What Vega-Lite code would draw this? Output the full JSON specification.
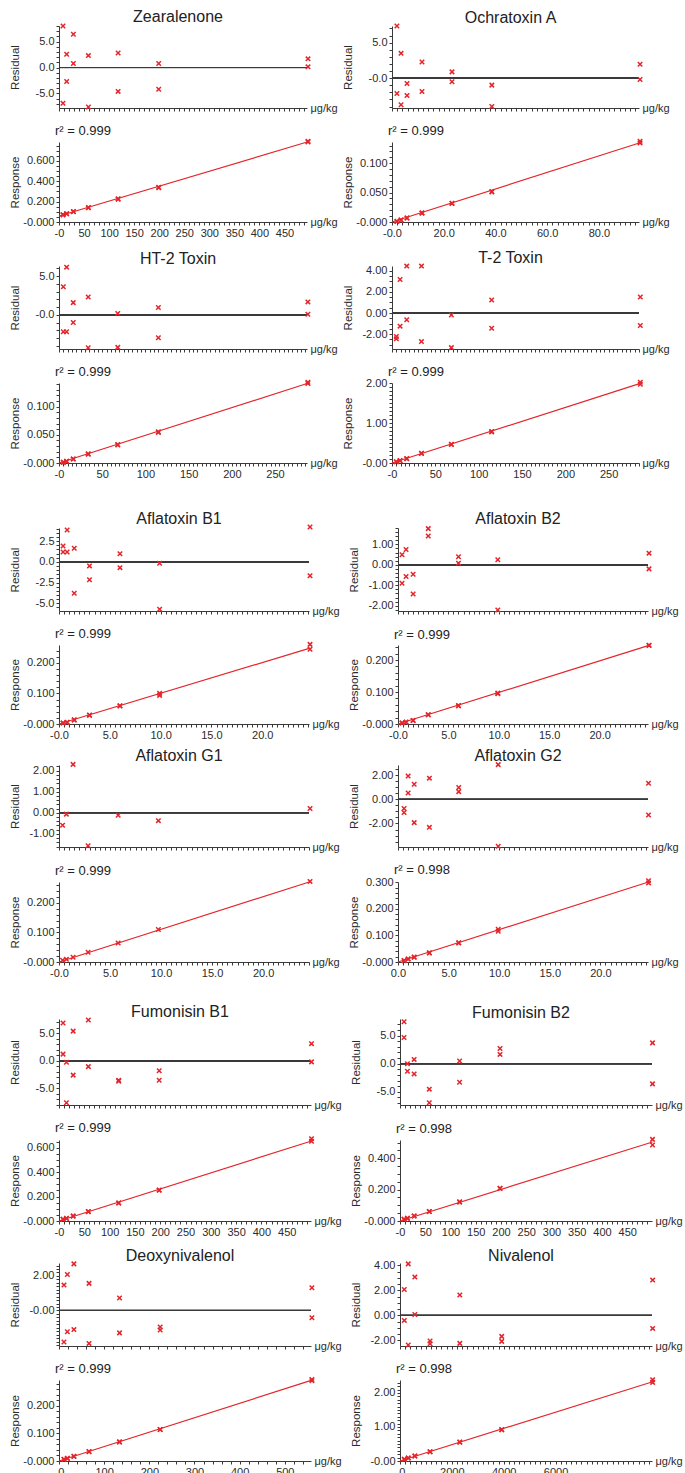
{
"$schema":"https://vega.github.io/schema/vega-lite/v6.json",
"padding":{"left":9,"top":9,"right":5,"bottom":0},
"config":{
 "font":"Liberation Sans",
 "view":{"stroke":null},
 "axis":{"grid":false,"domainColor":"#3a3a3a","tickColor":"#3a3a3a","tickSize":3,"labelFontSize":11,"labelColor":"#2b2b2b","titleFontSize":11.5,"titleFontWeight":"normal","titleColor":"#2b2b2b","labelOverlap":false,"labelFlush":false,"labelPadding":2,"labelFont":"Liberation Sans","titleFont":"Liberation Sans"},
 "axisY":{"titleX":-41,"titleBaseline":"alphabetic","titleAngle":270,"titleAlign":"center"},
 "axisX":{"titleY":0.5,"titleBaseline":"middle","titleAlign":"left","titleAngle":0,"titleFontSize":11},
 "title":{"fontSize":16,"fontWeight":"normal","color":"#222222","offset":3,"dy":8,"frame":"group","font":"Liberation Sans"},
 "point":{"shape":"M-1,-1L1,1M-1,1L1,-1","filled":false,"color":"#e3262b","strokeWidth":1.5,"size":20,"opacity":1},
 "line":{"color":"#e3262b","strokeWidth":1.2},
 "rule":{"color":"#3a3a3a","strokeWidth":1}
},
"datasets":{
"zea":[{"x":8,"res":8.0,"resp":0.072},{"x":8,"res":-6.9,"resp":0.070},{"x":15.3,"res":2.56,"resp":0.082},{"x":15.3,"res":-2.7,"resp":0.081},{"x":28.7,"res":6.4,"resp":0.102},{"x":28.7,"res":0.77,"resp":0.100},{"x":58.7,"res":2.3,"resp":0.142},{"x":58.7,"res":-7.6,"resp":0.139},{"x":118,"res":2.8,"resp":0.228},{"x":118,"res":-4.6,"resp":0.224},{"x":199,"res":0.77,"resp":0.340},{"x":199,"res":-4.2,"resp":0.336},{"x":497,"res":1.67,"resp":0.792},{"x":497,"res":0.13,"resp":0.786}],
"ota":[{"x":1.9,"res":7.34,"resp":0.0013},{"x":1.9,"res":-2.15,"resp":0.0010},{"x":3.5,"res":3.5,"resp":0.0035},{"x":3.5,"res":-3.74,"resp":0.0033},{"x":5.8,"res":-0.75,"resp":0.0069},{"x":5.8,"res":-2.43,"resp":0.0067},{"x":11.6,"res":2.29,"resp":0.0155},{"x":11.6,"res":-1.87,"resp":0.0151},{"x":23.2,"res":0.89,"resp":0.0320},{"x":23.2,"res":-0.51,"resp":0.0316},{"x":38.6,"res":-0.98,"resp":0.0518},{"x":38.6,"res":-4.0,"resp":0.0510},{"x":95.9,"res":1.96,"resp":0.1372},{"x":95.9,"res":-0.19,"resp":0.1345}],
"ht2":[{"x":5,"res":3.63,"resp":0.0013},{"x":5,"res":-2.18,"resp":0.0011},{"x":8.8,"res":6.15,"resp":0.0032},{"x":8.8,"res":-2.18,"resp":0.0029},{"x":16.5,"res":1.58,"resp":0.0072},{"x":16.5,"res":-0.98,"resp":0.0070},{"x":33.8,"res":2.31,"resp":0.0163},{"x":33.8,"res":-4.23,"resp":0.0156},{"x":68,"res":0.17,"resp":0.0328},{"x":68,"res":-4.19,"resp":0.0320},{"x":115,"res":0.94,"resp":0.0556},{"x":115,"res":-2.95,"resp":0.0543},{"x":288,"res":1.67,"resp":0.1432},{"x":288,"res":0.09,"resp":0.1410}],
"t2":[{"x":5,"res":-2.22,"resp":0.033},{"x":5,"res":-2.44,"resp":0.032},{"x":9.3,"res":3.17,"resp":0.060},{"x":9.3,"res":-1.24,"resp":0.057},{"x":17,"res":4.44,"resp":0.110},{"x":17,"res":-0.63,"resp":0.106},{"x":34,"res":4.44,"resp":0.246},{"x":34,"res":-2.7,"resp":0.238},{"x":68.5,"res":-0.19,"resp":0.468},{"x":68.5,"res":-3.27,"resp":0.462},{"x":115,"res":1.24,"resp":0.790},{"x":115,"res":-1.43,"resp":0.778},{"x":286.5,"res":1.52,"resp":2.017},{"x":286.5,"res":-1.17,"resp":1.967}],
"afb1":[{"x":0.4,"res":1.93,"resp":0.0032},{"x":0.4,"res":1.19,"resp":0.0030},{"x":0.8,"res":3.85,"resp":0.0055},{"x":0.8,"res":1.19,"resp":0.0052},{"x":1.5,"res":1.64,"resp":0.0135},{"x":1.5,"res":-3.81,"resp":0.0128},{"x":3.0,"res":-0.49,"resp":0.0290},{"x":3.0,"res":-2.17,"resp":0.0285},{"x":6.0,"res":0.98,"resp":0.0595},{"x":6.0,"res":-0.70,"resp":0.0585},{"x":9.9,"res":-0.16,"resp":0.1000},{"x":9.9,"res":-5.74,"resp":0.0935},{"x":24.7,"res":4.22,"resp":0.260},{"x":24.7,"res":-1.68,"resp":0.244}],
"afb2":[{"x":0.4,"res":0.49,"resp":0.0032},{"x":0.4,"res":-0.90,"resp":0.0029},{"x":0.8,"res":0.75,"resp":0.0060},{"x":0.8,"res":-0.57,"resp":0.0057},{"x":1.5,"res":-0.46,"resp":0.0112},{"x":1.5,"res":-1.43,"resp":0.0108},{"x":3.0,"res":1.77,"resp":0.0290},{"x":3.0,"res":1.41,"resp":0.0288},{"x":6.0,"res":0.39,"resp":0.0575},{"x":6.0,"res":0.08,"resp":0.0573},{"x":9.9,"res":0.25,"resp":0.0965},{"x":9.9,"res":-2.21,"resp":0.0945},{"x":24.9,"res":0.57,"resp":0.2465},{"x":24.9,"res":-0.20,"resp":0.2455}],
"afg1":[{"x":0.35,"res":-0.59,"resp":0.0060},{"x":0.72,"res":-0.06,"resp":0.0090},{"x":1.38,"res":2.30,"resp":0.0160},{"x":2.85,"res":-1.56,"resp":0.0330},{"x":5.8,"res":-0.11,"resp":0.0640},{"x":9.74,"res":-0.37,"resp":0.1100},{"x":24.6,"res":0.21,"resp":0.2730}],
"afg2":[{"x":0.6,"res":-0.76,"resp":0.0055},{"x":0.6,"res":-1.09,"resp":0.0050},{"x":1.0,"res":1.93,"resp":0.0115},{"x":1.0,"res":0.53,"resp":0.0110},{"x":1.6,"res":1.26,"resp":0.0185},{"x":1.6,"res":-1.93,"resp":0.0175},{"x":3.1,"res":1.76,"resp":0.0345},{"x":3.1,"res":-2.32,"resp":0.0335},{"x":6.0,"res":0.98,"resp":0.0722},{"x":6.0,"res":0.64,"resp":0.0718},{"x":9.9,"res":2.88,"resp":0.1230},{"x":9.9,"res":-3.89,"resp":0.1160},{"x":24.75,"res":1.34,"resp":0.3060},{"x":24.75,"res":-1.29,"resp":0.2970}],
"fb1":[{"x":8,"res":6.87,"resp":0.0145},{"x":8,"res":1.23,"resp":0.0135},{"x":14.7,"res":-0.25,"resp":0.0225},{"x":14.7,"res":-7.6,"resp":0.0210},{"x":28,"res":5.4,"resp":0.0415},{"x":28,"res":-2.58,"resp":0.0400},{"x":58,"res":7.42,"resp":0.0780},{"x":58,"res":-1.04,"resp":0.0765},{"x":118,"res":-3.5,"resp":0.1480},{"x":118,"res":-3.68,"resp":0.1478},{"x":198,"res":-1.78,"resp":0.2530},{"x":198,"res":-3.5,"resp":0.2510},{"x":499,"res":3.13,"resp":0.674},{"x":499,"res":-0.18,"resp":0.652}],
"fb2":[{"x":8,"res":7.47,"resp":0.0115},{"x":8,"res":4.65,"resp":0.0110},{"x":14.7,"res":0.0,"resp":0.0172},{"x":14.7,"res":-1.35,"resp":0.0168},{"x":28,"res":0.76,"resp":0.0325},{"x":28,"res":-1.82,"resp":0.0318},{"x":58,"res":-4.53,"resp":0.0610},{"x":58,"res":-6.94,"resp":0.0600},{"x":118,"res":0.47,"resp":0.1230},{"x":118,"res":-3.29,"resp":0.1200},{"x":198,"res":2.71,"resp":0.2090},{"x":198,"res":1.65,"resp":0.2070},{"x":500,"res":3.7,"resp":0.520},{"x":500,"res":-3.59,"resp":0.484}],
"don":[{"x":11,"res":1.47,"resp":0.0062},{"x":11,"res":-1.83,"resp":0.0058},{"x":18.5,"res":2.08,"resp":0.0098},{"x":18.5,"res":-1.23,"resp":0.0094},{"x":33,"res":2.70,"resp":0.0172},{"x":33,"res":-1.11,"resp":0.0166},{"x":66.5,"res":1.57,"resp":0.0342},{"x":66.5,"res":-1.91,"resp":0.0335},{"x":134,"res":0.72,"resp":0.0692},{"x":134,"res":-1.30,"resp":0.0686},{"x":224,"res":-0.96,"resp":0.1142},{"x":224,"res":-1.13,"resp":0.1140},{"x":560,"res":1.32,"resp":0.2950},{"x":560,"res":-0.42,"resp":0.2900}],
"niv":[{"x":166,"res":2.08,"resp":0.050},{"x":166,"res":-0.40,"resp":0.048},{"x":318,"res":4.13,"resp":0.088},{"x":318,"res":-2.37,"resp":0.085},{"x":573,"res":3.07,"resp":0.147},{"x":573,"res":0.08,"resp":0.144},{"x":1160,"res":-2.05,"resp":0.272},{"x":1160,"res":-2.27,"resp":0.270},{"x":2306,"res":1.63,"resp":0.556},{"x":2306,"res":-2.24,"resp":0.550},{"x":3924,"res":-1.68,"resp":0.922},{"x":3924,"res":-2.08,"resp":0.920},{"x":9745,"res":2.83,"resp":2.39},{"x":9745,"res":-1.04,"resp":2.31}],
"fit":[{"a":"zea","x":0,"y":0.059},{"a":"zea","x":497,"y":0.787},{"a":"ota","x":0,"y":0},{"a":"ota","x":95.9,"y":0.1348},{"a":"ht2","x":0,"y":0},{"a":"ht2","x":288,"y":0.1415},{"a":"t2","x":0,"y":0},{"a":"t2","x":286.5,"y":1.99},{"a":"afb1","x":0,"y":0},{"a":"afb1","x":24.7,"y":0.248},{"a":"afb2","x":0,"y":0},{"a":"afb2","x":24.9,"y":0.246},{"a":"afg1","x":0,"y":0},{"a":"afg1","x":24.6,"y":0.272},{"a":"afg2","x":0,"y":0},{"a":"afg2","x":24.75,"y":0.301},{"a":"fb1","x":0,"y":0},{"a":"fb1","x":499,"y":0.655},{"a":"fb2","x":0,"y":0},{"a":"fb2","x":500,"y":0.503},{"a":"don","x":0,"y":0},{"a":"don","x":560,"y":0.2925},{"a":"niv","x":0,"y":0},{"a":"niv","x":9745,"y":2.33}]
},
"spacing":31,
"vconcat":[
{"spacing":11,"vconcat":[
 {"spacing":11,"vconcat":[
  {"bounds":"flush","spacing":85,"hconcat":[
   {"width":248,"height":82,"title":{"text":"Zearalenone","dx":-5},"data":{"name":"zea"},"layer":[{"mark":"rule","encoding":{"y":{"datum":0,"type":"quantitative","scale":{"domain":[-7.8,8],"nice":false,"zero":false}}}},{"mark":"point","encoding":{"x":{"field":"x","type":"quantitative","scale":{"domain":[0,495],"nice":false,"zero":false},"axis":{"labels":false,"tickCount":50,"title":"μg/kg","titleX":251}},"y":{"field":"res","type":"quantitative","scale":{"domain":[-7.8,8],"nice":false,"zero":false},"axis":{"tickCount":16,"labelExpr":"datum.value==5?'5.0':datum.value==0?'0.0':datum.value==-5?'-5.0':''","title":"Residual"}}}}]},
   {"width":247,"height":82,"title":{"text":"Ochratoxin A","dx":-5},"data":{"name":"ota"},"layer":[{"mark":"rule","encoding":{"y":{"datum":0,"type":"quantitative","scale":{"domain":[-4.2,7.35],"nice":false,"zero":false}}}},{"mark":"point","encoding":{"x":{"field":"x","type":"quantitative","scale":{"domain":[0,95.5],"nice":false,"zero":false},"axis":{"labels":false,"tickCount":48,"title":"μg/kg","titleX":250}},"y":{"field":"res","type":"quantitative","scale":{"domain":[-4.2,7.35],"nice":false,"zero":false},"axis":{"tickCount":12,"labelExpr":"datum.value==5?'5.0':datum.value==0?'-0.0':''","title":"Residual"}}}}]}
  ]},
  {"bounds":"flush","spacing":85,"hconcat":[
   {"width":248,"height":80,"title":{"text":"r² = 0.999","anchor":"start","fontSize":13,"offset":6,"dx":-4},"layer":[{"data":{"name":"fit"},"transform":[{"filter":"datum.a=='zea'"}],"mark":"line","encoding":{"x":{"field":"x","type":"quantitative","scale":{"domain":[0,495],"nice":false,"zero":false}},"y":{"field":"y","type":"quantitative","scale":{"domain":[0,0.785],"nice":false,"zero":false}}}},{"data":{"name":"zea"},"mark":"point","encoding":{"x":{"field":"x","type":"quantitative","scale":{"domain":[0,495],"nice":false,"zero":false},"axis":{"tickCount":50,"labelExpr":"datum.value==0?'-0':datum.value%50==0?''+datum.value:''","title":"μg/kg","titleX":251}},"y":{"field":"resp","type":"quantitative","scale":{"domain":[0,0.785],"nice":false,"zero":false},"axis":{"tickCount":16,"labelExpr":"datum.value==0?'-0.000':datum.value==0.2?'0.200':datum.value==0.4?'0.400':datum.value==0.6?'0.600':''","title":"Response"}}}}]},
   {"width":247,"height":80,"title":{"text":"r² = 0.999","anchor":"start","fontSize":13,"offset":6,"dx":-4},"layer":[{"data":{"name":"fit"},"transform":[{"filter":"datum.a=='ota'"}],"mark":"line","encoding":{"x":{"field":"x","type":"quantitative","scale":{"domain":[0,95.5],"nice":false,"zero":false}},"y":{"field":"y","type":"quantitative","scale":{"domain":[0,0.136],"nice":false,"zero":false}}}},{"data":{"name":"ota"},"mark":"point","encoding":{"x":{"field":"x","type":"quantitative","scale":{"domain":[0,95.5],"nice":false,"zero":false},"axis":{"tickCount":48,"labelExpr":"datum.value==0?'-0.0':datum.value%20==0?format(datum.value,'.1f'):''","title":"μg/kg","titleX":250}},"y":{"field":"resp","type":"quantitative","scale":{"domain":[0,0.136],"nice":false,"zero":false},"axis":{"tickCount":14,"labelExpr":"datum.value==0?'-0.000':datum.value==0.05?'0.050':datum.value==0.1?'0.100':''","title":"Response"}}}}]}
  ]}
 ]},
 {"spacing":11,"vconcat":[
  {"bounds":"flush","spacing":85,"hconcat":[
   {"width":248,"height":83,"title":{"text":"HT-2 Toxin","dx":-5},"data":{"name":"ht2"},"layer":[{"mark":"rule","encoding":{"y":{"datum":0,"type":"quantitative","scale":{"domain":[-4.4,6.3],"nice":false,"zero":false}}}},{"mark":"point","encoding":{"x":{"field":"x","type":"quantitative","scale":{"domain":[0,287],"nice":false,"zero":false},"axis":{"labels":false,"tickCount":57,"title":"μg/kg","titleX":251}},"y":{"field":"res","type":"quantitative","scale":{"domain":[-4.4,6.3],"nice":false,"zero":false},"axis":{"tickCount":11,"labelExpr":"datum.value==5?'5.0':datum.value==0?'-0.0':''","title":"Residual"}}}}]},
   {"width":247,"height":83,"title":{"text":"T-2 Toxin","dx":-5},"data":{"name":"t2"},"layer":[{"mark":"rule","encoding":{"y":{"datum":0,"type":"quantitative","scale":{"domain":[-3.4,4.45],"nice":false,"zero":false}}}},{"mark":"point","encoding":{"x":{"field":"x","type":"quantitative","scale":{"domain":[0,285],"nice":false,"zero":false},"axis":{"labels":false,"tickCount":57,"title":"μg/kg","titleX":250}},"y":{"field":"res","type":"quantitative","scale":{"domain":[-3.4,4.45],"nice":false,"zero":false},"axis":{"tickCount":16,"labelExpr":"datum.value==4?'4.00':datum.value==2?'2.00':datum.value==0?'0.00':datum.value==-2?'-2.00':''","title":"Residual"}}}}]}
  ]},
  {"bounds":"flush","spacing":85,"hconcat":[
   {"width":248,"height":80,"title":{"text":"r² = 0.999","anchor":"start","fontSize":13,"offset":6,"dx":-4},"layer":[{"data":{"name":"fit"},"transform":[{"filter":"datum.a=='ht2'"}],"mark":"line","encoding":{"x":{"field":"x","type":"quantitative","scale":{"domain":[0,287],"nice":false,"zero":false}},"y":{"field":"y","type":"quantitative","scale":{"domain":[0,0.142],"nice":false,"zero":false}}}},{"data":{"name":"ht2"},"mark":"point","encoding":{"x":{"field":"x","type":"quantitative","scale":{"domain":[0,287],"nice":false,"zero":false},"axis":{"tickCount":57,"labelExpr":"datum.value==0?'-0':datum.value%50==0?''+datum.value:''","title":"μg/kg","titleX":251}},"y":{"field":"resp","type":"quantitative","scale":{"domain":[0,0.142],"nice":false,"zero":false},"axis":{"tickCount":14,"labelExpr":"datum.value==0?'-0.000':datum.value==0.05?'0.050':datum.value==0.1?'0.100':''","title":"Response"}}}}]},
   {"width":247,"height":80,"title":{"text":"r² = 0.999","anchor":"start","fontSize":13,"offset":6,"dx":-4},"layer":[{"data":{"name":"fit"},"transform":[{"filter":"datum.a=='t2'"}],"mark":"line","encoding":{"x":{"field":"x","type":"quantitative","scale":{"domain":[0,285],"nice":false,"zero":false}},"y":{"field":"y","type":"quantitative","scale":{"domain":[0,2.0],"nice":false,"zero":false}}}},{"data":{"name":"t2"},"mark":"point","encoding":{"x":{"field":"x","type":"quantitative","scale":{"domain":[0,285],"nice":false,"zero":false},"axis":{"tickCount":57,"labelExpr":"datum.value==0?'-0':datum.value%50==0?''+datum.value:''","title":"μg/kg","titleX":250}},"y":{"field":"resp","type":"quantitative","scale":{"domain":[0,2.0],"nice":false,"zero":false},"axis":{"tickCount":19,"labelExpr":"datum.value==0?'-0.00':datum.value==1?'1.00':datum.value==2?'2.00':''","title":"Response"}}}}]}
  ]}
 ]}
]},
{"spacing":25,"vconcat":[
 {"spacing":8,"vconcat":[
  {"spacing":11,"vconcat":[
   {"bounds":"flush","spacing":89,"hconcat":[
    {"width":250,"height":83,"title":{"text":"Aflatoxin B1","dx":-5},"data":{"name":"afb1"},"layer":[{"mark":"rule","encoding":{"y":{"datum":0,"type":"quantitative","scale":{"domain":[-5.95,4.1],"nice":false,"zero":false}}}},{"mark":"point","encoding":{"x":{"field":"x","type":"quantitative","scale":{"domain":[0,24.6],"nice":false,"zero":false},"axis":{"labels":false,"tickCount":49,"title":"μg/kg","titleX":253}},"y":{"field":"res","type":"quantitative","scale":{"domain":[-5.95,4.1],"nice":false,"zero":false},"axis":{"tickCount":20,"labelExpr":"datum.value==2.5?'2.5':datum.value==0?'0.0':datum.value==-2.5?'-2.5':datum.value==-5?'-5.0':''","title":"Residual"}}}}]},
    {"width":250,"height":83,"title":{"text":"Aflatoxin B2","dx":-5},"data":{"name":"afb2"},"layer":[{"mark":"rule","encoding":{"y":{"datum":0,"type":"quantitative","scale":{"domain":[-2.26,1.8],"nice":false,"zero":false}}}},{"mark":"point","encoding":{"x":{"field":"x","type":"quantitative","scale":{"domain":[0,24.8],"nice":false,"zero":false},"axis":{"labels":false,"tickCount":50,"title":"μg/kg","titleX":253}},"y":{"field":"res","type":"quantitative","scale":{"domain":[-2.26,1.8],"nice":false,"zero":false},"axis":{"tickCount":20,"labelExpr":"datum.value==1?'1.00':datum.value==0?'0.00':datum.value==-1?'-1.00':datum.value==-2?'-2.00':''","title":"Residual"}}}}]}
   ]},
   {"bounds":"flush","spacing":89,"hconcat":[
    {"width":250,"height":79,"title":{"text":"r² = 0.999","anchor":"start","fontSize":13,"offset":6,"dx":-4},"layer":[{"data":{"name":"fit"},"transform":[{"filter":"datum.a=='afb1'"}],"mark":"line","encoding":{"x":{"field":"x","type":"quantitative","scale":{"domain":[0,24.6],"nice":false,"zero":false}},"y":{"field":"y","type":"quantitative","scale":{"domain":[0,0.258],"nice":false,"zero":false}}}},{"data":{"name":"afb1"},"mark":"point","encoding":{"x":{"field":"x","type":"quantitative","scale":{"domain":[0,24.6],"nice":false,"zero":false},"axis":{"tickCount":49,"labelExpr":"datum.value==0?'-0.0':datum.value%5==0?format(datum.value,'.1f'):''","title":"μg/kg","titleX":253}},"y":{"field":"resp","type":"quantitative","scale":{"domain":[0,0.258],"nice":false,"zero":false},"axis":{"tickCount":13,"labelExpr":"datum.value==0?'-0.000':datum.value==0.1?'0.100':datum.value==0.2?'0.200':''","title":"Response"}}}}]},
    {"width":250,"height":79,"title":{"text":"r² = 0.999","anchor":"start","fontSize":13,"offset":6,"dx":-4},"layer":[{"data":{"name":"fit"},"transform":[{"filter":"datum.a=='afb2'"}],"mark":"line","encoding":{"x":{"field":"x","type":"quantitative","scale":{"domain":[0,24.8],"nice":false,"zero":false}},"y":{"field":"y","type":"quantitative","scale":{"domain":[0,0.247],"nice":false,"zero":false}}}},{"data":{"name":"afb2"},"mark":"point","encoding":{"x":{"field":"x","type":"quantitative","scale":{"domain":[0,24.8],"nice":false,"zero":false},"axis":{"tickCount":50,"labelExpr":"datum.value==0?'-0.0':datum.value%5==0?format(datum.value,'.1f'):''","title":"μg/kg","titleX":253}},"y":{"field":"resp","type":"quantitative","scale":{"domain":[0,0.247],"nice":false,"zero":false},"axis":{"tickCount":12,"labelExpr":"datum.value==0?'-0.000':datum.value==0.1?'0.100':datum.value==0.2?'0.200':''","title":"Response"}}}}]}
   ]}
  ]},
  {"spacing":11,"vconcat":[
   {"bounds":"flush","spacing":89,"hconcat":[
    {"width":250,"height":82,"title":{"text":"Aflatoxin G1","dx":-5},"data":{"name":"afg1"},"layer":[{"mark":"rule","encoding":{"y":{"datum":0,"type":"quantitative","scale":{"domain":[-1.62,2.27],"nice":false,"zero":false}}}},{"mark":"point","encoding":{"x":{"field":"x","type":"quantitative","scale":{"domain":[0,24.5],"nice":false,"zero":false},"axis":{"labels":false,"tickCount":49,"title":"μg/kg","titleX":253}},"y":{"field":"res","type":"quantitative","scale":{"domain":[-1.62,2.27],"nice":false,"zero":false},"axis":{"tickCount":19,"labelExpr":"datum.value==2?'2.00':datum.value==1?'1.00':datum.value==0?'0.00':datum.value==-1?'-1.00':''","title":"Residual"}}}}]},
    {"width":250,"height":82,"title":{"text":"Aflatoxin G2","dx":-5},"data":{"name":"afg2"},"layer":[{"mark":"rule","encoding":{"y":{"datum":0,"type":"quantitative","scale":{"domain":[-3.95,2.85],"nice":false,"zero":false}}}},{"mark":"point","encoding":{"x":{"field":"x","type":"quantitative","scale":{"domain":[0,24.7],"nice":false,"zero":false},"axis":{"labels":false,"tickCount":49,"title":"μg/kg","titleX":253}},"y":{"field":"res","type":"quantitative","scale":{"domain":[-3.95,2.85],"nice":false,"zero":false},"axis":{"tickCount":14,"labelExpr":"datum.value==2?'2.00':datum.value==0?'0.00':datum.value==-2?'-2.00':''","title":"Residual"}}}}]}
   ]},
   {"bounds":"flush","spacing":89,"hconcat":[
    {"width":250,"height":80,"title":{"text":"r² = 0.999","anchor":"start","fontSize":13,"offset":6,"dx":-4},"layer":[{"data":{"name":"fit"},"transform":[{"filter":"datum.a=='afg1'"}],"mark":"line","encoding":{"x":{"field":"x","type":"quantitative","scale":{"domain":[0,24.5],"nice":false,"zero":false}},"y":{"field":"y","type":"quantitative","scale":{"domain":[0,0.271],"nice":false,"zero":false}}}},{"data":{"name":"afg1"},"mark":"point","encoding":{"x":{"field":"x","type":"quantitative","scale":{"domain":[0,24.5],"nice":false,"zero":false},"axis":{"tickCount":49,"labelExpr":"datum.value==0?'-0.0':datum.value%5==0?format(datum.value,'.1f'):''","title":"μg/kg","titleX":253}},"y":{"field":"resp","type":"quantitative","scale":{"domain":[0,0.271],"nice":false,"zero":false},"axis":{"tickCount":14,"labelExpr":"datum.value==0?'-0.000':datum.value==0.1?'0.100':datum.value==0.2?'0.200':''","title":"Response"}}}}]},
    {"width":250,"height":80,"title":{"text":"r² = 0.998","anchor":"start","fontSize":13,"offset":6,"dx":-4},"layer":[{"data":{"name":"fit"},"transform":[{"filter":"datum.a=='afg2'"}],"mark":"line","encoding":{"x":{"field":"x","type":"quantitative","scale":{"domain":[0,24.7],"nice":false,"zero":false}},"y":{"field":"y","type":"quantitative","scale":{"domain":[0,0.301],"nice":false,"zero":false}}}},{"data":{"name":"afg2"},"mark":"point","encoding":{"x":{"field":"x","type":"quantitative","scale":{"domain":[0,24.7],"nice":false,"zero":false},"axis":{"tickCount":49,"labelExpr":"datum.value==0?'0.0':datum.value%5==0?format(datum.value,'.1f'):''","title":"μg/kg","titleX":253}},"y":{"field":"resp","type":"quantitative","scale":{"domain":[0,0.301],"nice":false,"zero":false},"axis":{"tickCount":15,"labelExpr":"datum.value==0?'-0.000':datum.value==0.1?'0.100':datum.value==0.2?'0.200':datum.value==0.3?'0.300':''","title":"Response"}}}}]}
   ]}
  ]}
 ]},
 {"spacing":10,"vconcat":[
  {"spacing":11,"vconcat":[
   {"bounds":"flush","spacing":89,"hconcat":[
    {"width":252,"height":86,"title":{"text":"Fumonisin B1","dx":-5},"data":{"name":"fb1"},"layer":[{"mark":"rule","encoding":{"y":{"datum":0,"type":"quantitative","scale":{"domain":[-8.0,7.6],"nice":false,"zero":false}}}},{"mark":"point","encoding":{"x":{"field":"x","type":"quantitative","scale":{"domain":[0,498],"nice":false,"zero":false},"axis":{"labels":false,"tickCount":50,"title":"μg/kg","titleX":255}},"y":{"field":"res","type":"quantitative","scale":{"domain":[-8.0,7.6],"nice":false,"zero":false},"axis":{"tickCount":16,"labelExpr":"datum.value==5?'5.0':datum.value==0?'0.0':datum.value==-5?'-5.0':''","title":"Residual"}}}}]},
    {"width":252,"height":86,"title":{"text":"Fumonisin B2","dx":-5},"data":{"name":"fb2"},"layer":[{"mark":"rule","encoding":{"y":{"datum":0,"type":"quantitative","scale":{"domain":[-7.35,7.95],"nice":false,"zero":false}}}},{"mark":"point","encoding":{"x":{"field":"x","type":"quantitative","scale":{"domain":[0,499],"nice":false,"zero":false},"axis":{"labels":false,"tickCount":50,"title":"μg/kg","titleX":255}},"y":{"field":"res","type":"quantitative","scale":{"domain":[-7.35,7.95],"nice":false,"zero":false},"axis":{"tickCount":15,"labelExpr":"datum.value==5?'5.0':datum.value==0?'0.0':datum.value==-5?'-5.0':''","title":"Residual"}}}}]}
   ]},
   {"bounds":"flush","spacing":89,"hconcat":[
    {"width":252,"height":81,"title":{"text":"r² = 0.999","anchor":"start","fontSize":13,"offset":6,"dx":-4},"layer":[{"data":{"name":"fit"},"transform":[{"filter":"datum.a=='fb1'"}],"mark":"line","encoding":{"x":{"field":"x","type":"quantitative","scale":{"domain":[0,498],"nice":false,"zero":false}},"y":{"field":"y","type":"quantitative","scale":{"domain":[0,0.663],"nice":false,"zero":false}}}},{"data":{"name":"fb1"},"mark":"point","encoding":{"x":{"field":"x","type":"quantitative","scale":{"domain":[0,498],"nice":false,"zero":false},"axis":{"tickCount":50,"labelExpr":"datum.value==0?'-0':datum.value%50==0?''+datum.value:''","title":"μg/kg","titleX":255}},"y":{"field":"resp","type":"quantitative","scale":{"domain":[0,0.663],"nice":false,"zero":false},"axis":{"tickCount":13,"labelExpr":"datum.value==0?'-0.000':datum.value==0.2?'0.200':datum.value==0.4?'0.400':datum.value==0.6?'0.600':''","title":"Response"}}}}]},
    {"width":252,"height":81,"title":{"text":"r² = 0.998","anchor":"start","fontSize":13,"offset":6,"dx":-4},"layer":[{"data":{"name":"fit"},"transform":[{"filter":"datum.a=='fb2'"}],"mark":"line","encoding":{"x":{"field":"x","type":"quantitative","scale":{"domain":[0,499],"nice":false,"zero":false}},"y":{"field":"y","type":"quantitative","scale":{"domain":[0,0.516],"nice":false,"zero":false}}}},{"data":{"name":"fb2"},"mark":"point","encoding":{"x":{"field":"x","type":"quantitative","scale":{"domain":[0,499],"nice":false,"zero":false},"axis":{"tickCount":50,"labelExpr":"datum.value==0?'-0':datum.value%50==0?''+datum.value:''","title":"μg/kg","titleX":255}},"y":{"field":"resp","type":"quantitative","scale":{"domain":[0,0.516],"nice":false,"zero":false},"axis":{"tickCount":10,"labelExpr":"datum.value==0?'-0.000':datum.value==0.2?'0.200':datum.value==0.4?'0.400':''","title":"Response"}}}}]}
   ]}
  ]},
  {"spacing":11,"vconcat":[
   {"bounds":"flush","spacing":89,"hconcat":[
    {"width":252,"height":83,"title":{"text":"Deoxynivalenol","dx":-5},"data":{"name":"don"},"layer":[{"mark":"rule","encoding":{"y":{"datum":0,"type":"quantitative","scale":{"domain":[-2.06,2.75],"nice":false,"zero":false}}}},{"mark":"point","encoding":{"x":{"field":"x","type":"quantitative","scale":{"domain":[0,558],"nice":false,"zero":false},"axis":{"labels":false,"tickCount":28,"title":"μg/kg","titleX":255}},"y":{"field":"res","type":"quantitative","scale":{"domain":[-2.06,2.75],"nice":false,"zero":false},"axis":{"tickCount":24,"labelExpr":"datum.value==2?'2.00':datum.value==0?'-0.00':''","title":"Residual"}}}}]},
    {"width":252,"height":83,"title":{"text":"Nivalenol","dx":-5},"data":{"name":"niv"},"layer":[{"mark":"rule","encoding":{"y":{"datum":0,"type":"quantitative","scale":{"domain":[-2.45,4.2],"nice":false,"zero":false}}}},{"mark":"point","encoding":{"x":{"field":"x","type":"quantitative","scale":{"domain":[0,9720],"nice":false,"zero":false},"axis":{"labels":false,"tickCount":49,"title":"μg/kg","titleX":255}},"y":{"field":"res","type":"quantitative","scale":{"domain":[-2.45,4.2],"nice":false,"zero":false},"axis":{"tickCount":13,"labelExpr":"datum.value==4?'4.00':datum.value==2?'2.00':datum.value==0?'0.00':datum.value==-2?'-2.00':''","title":"Residual"}}}}]}
   ]},
   {"bounds":"flush","spacing":89,"hconcat":[
    {"width":252,"height":81,"title":{"text":"r² = 0.999","anchor":"start","fontSize":13,"offset":6,"dx":-4},"layer":[{"data":{"name":"fit"},"transform":[{"filter":"datum.a=='don'"}],"mark":"line","encoding":{"x":{"field":"x","type":"quantitative","scale":{"domain":[0,558],"nice":false,"zero":false}},"y":{"field":"y","type":"quantitative","scale":{"domain":[0,0.293],"nice":false,"zero":false}}}},{"data":{"name":"don"},"mark":"point","encoding":{"x":{"field":"x","type":"quantitative","scale":{"domain":[0,558],"nice":false,"zero":false},"axis":{"tickCount":28,"labelExpr":"datum.value==0?'-0':datum.value%100==0?''+datum.value:''","title":"μg/kg","titleX":255}},"y":{"field":"resp","type":"quantitative","scale":{"domain":[0,0.293],"nice":false,"zero":false},"axis":{"tickCount":15,"labelExpr":"datum.value==0?'-0.000':datum.value==0.1?'0.100':datum.value==0.2?'0.200':''","title":"Response"}}}}]},
    {"width":252,"height":81,"title":{"text":"r² = 0.998","anchor":"start","fontSize":13,"offset":6,"dx":-4},"layer":[{"data":{"name":"fit"},"transform":[{"filter":"datum.a=='niv'"}],"mark":"line","encoding":{"x":{"field":"x","type":"quantitative","scale":{"domain":[0,9720],"nice":false,"zero":false}},"y":{"field":"y","type":"quantitative","scale":{"domain":[0,2.38],"nice":false,"zero":false}}}},{"data":{"name":"niv"},"mark":"point","encoding":{"x":{"field":"x","type":"quantitative","scale":{"domain":[0,9720],"nice":false,"zero":false},"axis":{"tickCount":49,"labelExpr":"datum.value==0?'-0':(datum.value%2000==0&&datum.value<7000)?''+datum.value:''","title":"μg/kg","titleX":255}},"y":{"field":"resp","type":"quantitative","scale":{"domain":[0,2.38],"nice":false,"zero":false},"axis":{"tickCount":24,"labelExpr":"datum.value==0?'-0.00':datum.value==1?'1.00':datum.value==2?'2.00':''","title":"Response"}}}}]}
   ]}
  ]}
 ]}
]}
]
}
